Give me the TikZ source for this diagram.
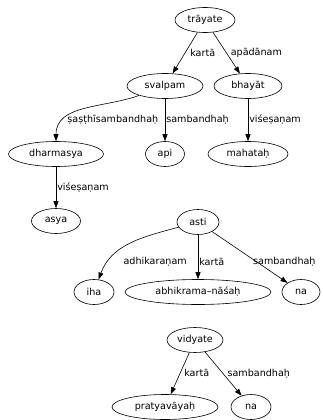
\documentclass[tikz,border=0pt]{standalone}
\usepackage{fontspec}
\setmainfont{DejaVu Sans}
\usetikzlibrary{arrows.meta,shapes.geometric}
\tikzset{
  word/.style={draw, ellipse, line width=0.6pt, minimum height=25pt, inner sep=0pt,
    font=\fontsize{9.6}{11}\selectfont},
  rel/.style={inner sep=0pt, font=\fontsize{9.6}{11}\selectfont},
  link/.style={line width=0.6pt, -{Triangle[length=7pt,width=5pt]}}
}
\begin{document}
\begin{tikzpicture}[x=1pt,y=-1pt]
            \useasboundingbox (0,0) rectangle (323,420);
            \node[word, minimum width=60pt] (trayate) at (205,20) {trāyate};
            \node[word, minimum width=76pt] (svalpam) at (165,86) {svalpam};
            \node[word, minimum width=68pt] (bhayat) at (248,86) {bhayāt};
            \node[word, minimum width=95pt] (dharmasya) at (56,154) {dharmasya};
            \node[word, minimum width=39pt] (api) at (165,154) {api};
            \node[word, minimum width=80pt] (mahatah) at (248,154) {mahataḥ};
            \node[word, minimum width=49pt] (asya) at (56,221) {asya};
            \node[word, minimum width=42pt] (asti) at (198,222) {asti};
            \node[word, minimum width=40pt] (iha) at (94,292) {iha};
            \node[word, minimum width=146pt] (nasah) at (198,292) {abhikrama–nāśaḥ};
            \node[word, minimum width=38pt] (na) at (301,292) {na};
            \node[word, minimum width=56pt] (vidyate) at (195,340) {vidyate};
            \node[word, minimum width=106pt] (pratyavayah) at (165,407) {pratyavāyaḥ};
            \node[word, minimum width=40pt] (navid) at (251,407) {na};
            \draw[link] (trayate) -- node[rel, anchor=west, xshift=5pt]{kartā} (svalpam);
            \draw[link] (trayate) -- node[rel, anchor=west, xshift=4pt]{apādānam} (bhayat);
            \draw[link] (svalpam) to[out=200,in=90] node[rel, pos=0.75, anchor=west, xshift=3pt]{ṣaṣṭhīsambandhaḥ} (dharmasya);
            \draw[link] (svalpam) -- node[rel, anchor=west, xshift=1pt]{sambandhaḥ} (api);
            \draw[link] (bhayat) -- node[rel, anchor=west, xshift=1pt]{viśeṣaṇam} (mahatah);
            \draw[link] (dharmasya) -- node[rel, anchor=west, xshift=1pt]{viśeṣaṇam} (asya);
            \draw[link] (asti) to[out=195,in=70] node[rel, pos=0.8, anchor=west, xshift=15pt]{adhikaraṇam} (iha);
            \draw[link] (asti) -- node[rel, pos=0.6, anchor=west, xshift=1pt]{kartā} (nasah);
            \draw[link] (asti) -- node[rel, anchor=north west, xshift=3pt]{sambandhaḥ} (na);
            \draw[link] (vidyate) -- node[rel, anchor=west, xshift=4pt]{kartā} (pratyavayah);
            \draw[link] (vidyate) -- node[rel, anchor=west, xshift=4pt]{sambandhaḥ} (navid);
\end{tikzpicture}
\end{document}
